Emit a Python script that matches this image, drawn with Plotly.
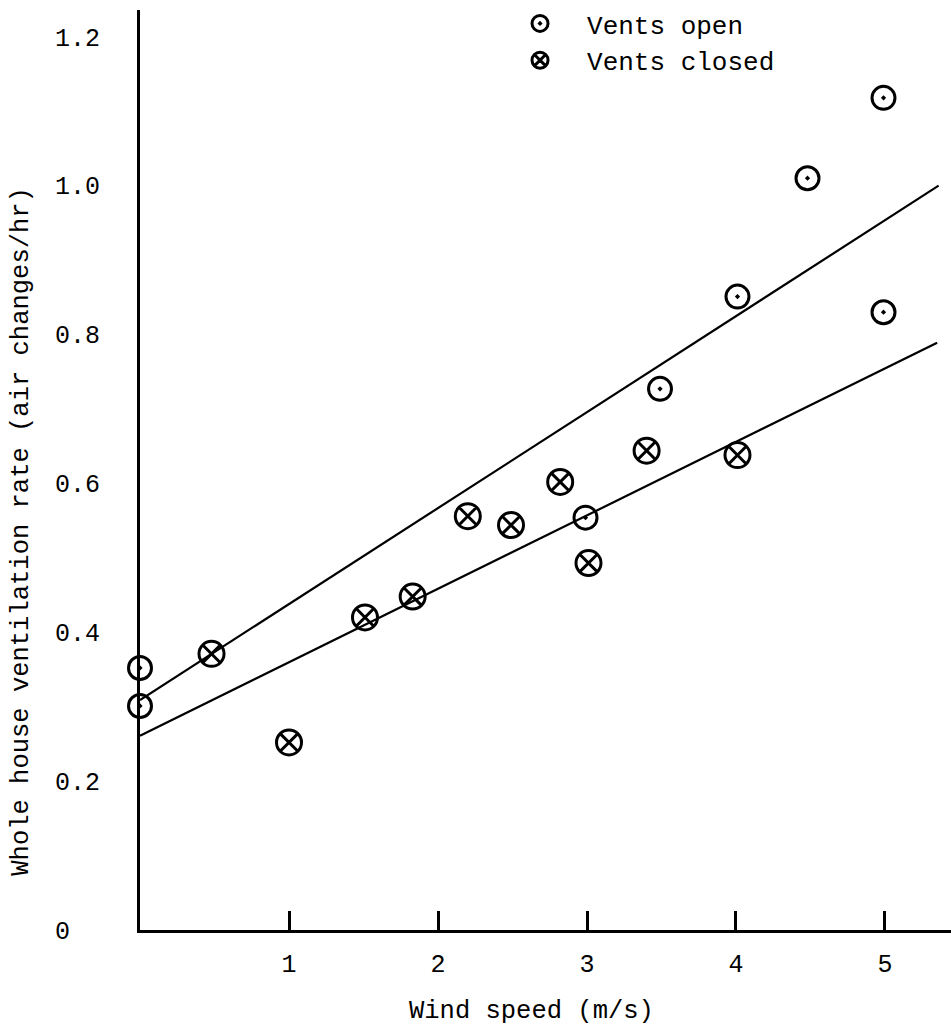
import plotly.graph_objects as go

# Data
open_x = [0.0, 0.0, 2.99, 3.49, 4.01, 4.48, 4.99, 4.99]
open_y = [0.352, 0.301, 0.554, 0.727, 0.851, 1.010, 1.118, 0.830]

closed_x = [0.48, 1.0, 1.51, 1.83, 2.2, 2.49, 2.82, 3.01, 3.40, 4.01]
closed_y = [0.371, 0.252, 0.42, 0.448, 0.556, 0.544, 0.602, 0.493, 0.644, 0.638]

fit_open_x = [0.0, 5.36]
fit_open_y = [0.309, 1.0]
fit_closed_x = [0.0, 5.35]
fit_closed_y = [0.261, 0.789]

x_ticks = [1, 2, 3, 4, 5]
y_ticks = [0, 0.2, 0.4, 0.6, 0.8, 1.0, 1.2]
y_ticktext = ["0\u00a0\u00a0", "0.2", "0.4", "0.6", "0.8", "1.0", "1.2"]

x_title = "Wind speed (m/s)"
y_title = "Whole house ventilation rate (air changes/hr)"

FONT = "Liberation Mono"

fig = go.Figure()
fig.add_trace(go.Scatter(x=fit_open_x, y=fit_open_y, mode="lines",
                         line=dict(color="black", width=2.2), showlegend=False,
                         hoverinfo="skip"))
fig.add_trace(go.Scatter(x=fit_closed_x, y=fit_closed_y, mode="lines",
                         line=dict(color="black", width=2.2), showlegend=False,
                         hoverinfo="skip"))
fig.add_trace(go.Scatter(x=open_x, y=open_y, mode="markers", name="Vents open",
                         legendgroup="a",
                         marker=dict(symbol="circle-open-dot", size=23, color="black",
                                     line=dict(width=3, color="black")),
                         cliponaxis=False))
fig.add_trace(go.Scatter(x=closed_x, y=closed_y, mode="markers", name="Vents closed",
                         legendgroup="b",
                         marker=dict(symbol="circle-x-open", size=25, color="black",
                                     line=dict(width=3, color="black")),
                         cliponaxis=False))

fig.update_layout(
    width=951, height=1026,
    margin=dict(l=140, r=0, t=10, b=96),
    paper_bgcolor="white", plot_bgcolor="white",
    font=dict(family=FONT, size=25, color="black"),
    legend=dict(x=0.4353, y=1.0109, xanchor="left", yanchor="top",
                font=dict(family=FONT, size=26), bgcolor="rgba(0,0,0,0)",
                tracegroupgap=0, itemsizing="trace", itemwidth=84),
    xaxis=dict(range=[0, 5.443], tickvals=x_ticks, ticks="inside", ticklen=19,
               tickwidth=2.5, tickcolor="black", showgrid=False, zeroline=False,
               showline=True, linecolor="black", linewidth=3,
               ticklabelstandoff=9, tickfont=dict(family=FONT, size=25)),
    yaxis=dict(range=[0, 1.236], tickvals=y_ticks, ticktext=y_ticktext, ticks="",
               showgrid=False, zeroline=False, showline=True, linecolor="black",
               linewidth=3, ticklabelstandoff=32,
               tickfont=dict(family=FONT, size=25)),
    annotations=[
        dict(text=x_title, xref="paper", yref="paper", x=0.4827, y=-0.0891,
             xanchor="center", yanchor="middle", showarrow=False,
             font=dict(family=FONT, size=25.5)),
        dict(text=y_title, xref="paper", yref="paper", x=-0.1455, y=0.434,
             xanchor="center", yanchor="middle", textangle=-90, showarrow=False,
             font=dict(family=FONT, size=25.5)),
    ],
)

fig.write_html("out.html", config={"displayModeBar": False},
               post_script="document.body.style.margin='0px';")
